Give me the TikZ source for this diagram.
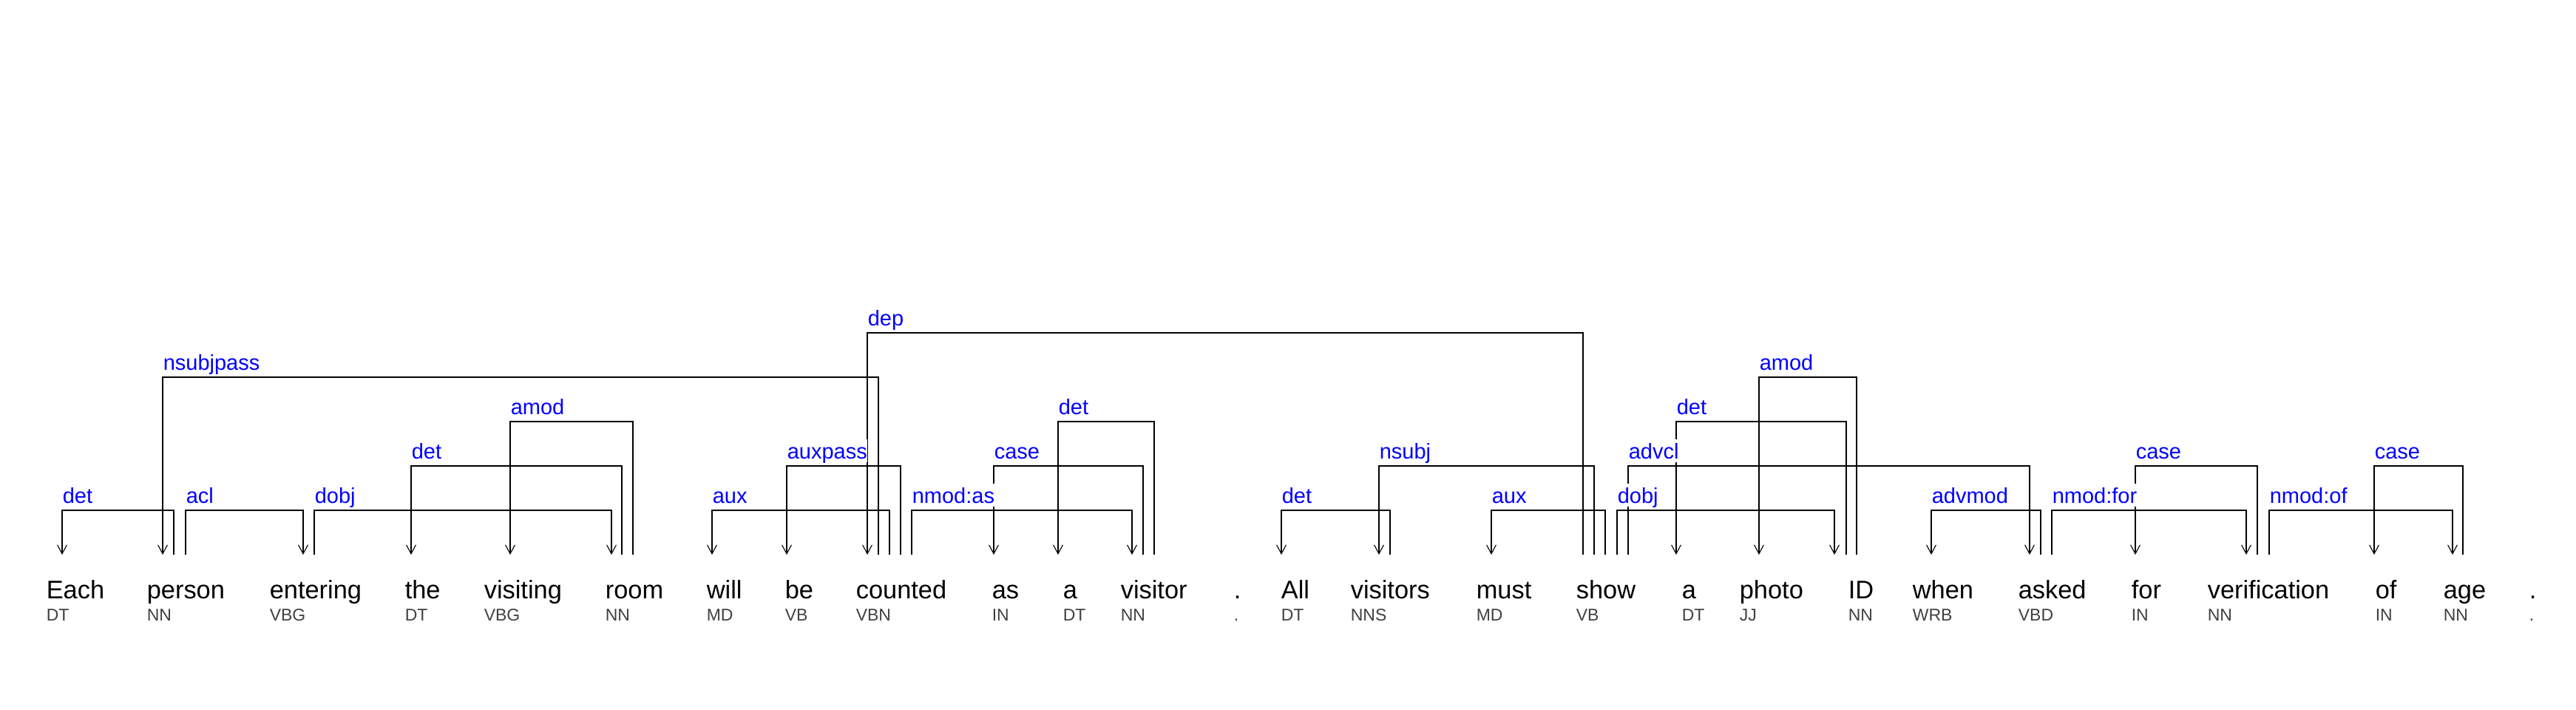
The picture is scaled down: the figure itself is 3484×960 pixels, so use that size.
\documentclass[tikz,border=0pt]{standalone}
\usepackage{fontspec}
\setmainfont{Liberation Sans}
\usetikzlibrary{arrows.meta}
\definecolor{lblblue}{RGB}{0,0,255}
\definecolor{posgray}{RGB}{64,64,64}
\pgfdeclarelayer{labels}
\pgfsetlayers{main,labels}
\tikzset{
  wordtxt/.style={anchor=base west,inner sep=0pt,font=\fontsize{8.6}{10}\selectfont},
  postag/.style={anchor=base west,inner sep=0pt,text=posgray,font=\fontsize{5.75}{7}\selectfont},
  lbl/.style={anchor=base west,inner sep=0pt,fill=white,text height=6.75pt,text depth=1pt,text=lblblue,font=\fontsize{7.25}{8}\selectfont},
  arcline/.style={line width=0.28pt,-{Straight Barb[length=3pt,width=3.2pt,line width=0.28pt]}}
}
\newcommand\deparc[5]{%
  \coordinate (#5h) at (#1,750);
  \coordinate (#5d) at (#2,750);
  \draw[arcline] (#5h) -- ++(0,-#3) -| (#5d);
  \begin{pgfonlayer}{labels}
  \node[lbl] (#5l) at ({min(#1,#2)},{741-#3}) {#4};
  \end{pgfonlayer}
}
\begin{document}
\begin{tikzpicture}[x=0.25pt,y=-0.25pt]
\useasboundingbox (0,0) rectangle (3484,960);
% words
\foreach \x/\w/\p [count=\i] in {62/Each/DT,198/person/NN,364/entering/VBG,547/the/DT,654/visiting/VBG,818/room/NN,955/will/MD,1061/be/VB,1157/counted/VBN,1341/as/IN,1437/a/DT,1515/visitor/NN,1668/./.,1732/All/DT,1826/visitors/NNS,1996/must/MD,2131/show/VB,2274/a/DT,2352/photo/JJ,2499/ID/NN,2586/when/WRB,2729/asked/VBD,2882/for/IN,2985/verification/NN,3212/of/IN,3304/age/NN,3420/./.}{
  \node[wordtxt] (w\i) at (\x,810) {\w};
  \node[postag] (p\i) at (\x,840) {\p};
}
% arcs: head x, dependent x, height, label, name
\deparc{235}{84}{60}{det}{a1}
\deparc{1188}{220}{240}{nsubjpass}{a2}
\deparc{251}{410}{60}{acl}{a3}
\deparc{425}{827}{60}{dobj}{a4}
\deparc{841}{556}{120}{det}{a5}
\deparc{856}{690}{180}{amod}{a6}
\deparc{1203}{963}{60}{aux}{a7}
\deparc{1218}{1064}{120}{auxpass}{a8}
\deparc{2141}{1173}{300}{dep}{a9}
\deparc{1233}{1531}{60}{nmod:as}{a10}
\deparc{1546}{1344}{120}{case}{a11}
\deparc{1561}{1431}{180}{det}{a12}
\deparc{1880}{1733}{60}{det}{a13}
\deparc{2156}{1865}{120}{nsubj}{a14}
\deparc{2171}{2017}{60}{aux}{a15}
\deparc{2187}{2481}{60}{dobj}{a16}
\deparc{2202}{2745}{120}{advcl}{a17}
\deparc{2497}{2267}{180}{det}{a18}
\deparc{2511}{2379}{240}{amod}{a19}
\deparc{2760}{2612}{60}{advmod}{a20}
\deparc{2775}{3038}{60}{nmod:for}{a21}
\deparc{3053}{2888}{120}{case}{a22}
\deparc{3069}{3317}{60}{nmod:of}{a23}
\deparc{3331}{3211}{120}{case}{a24}
\end{tikzpicture}
\end{document}
